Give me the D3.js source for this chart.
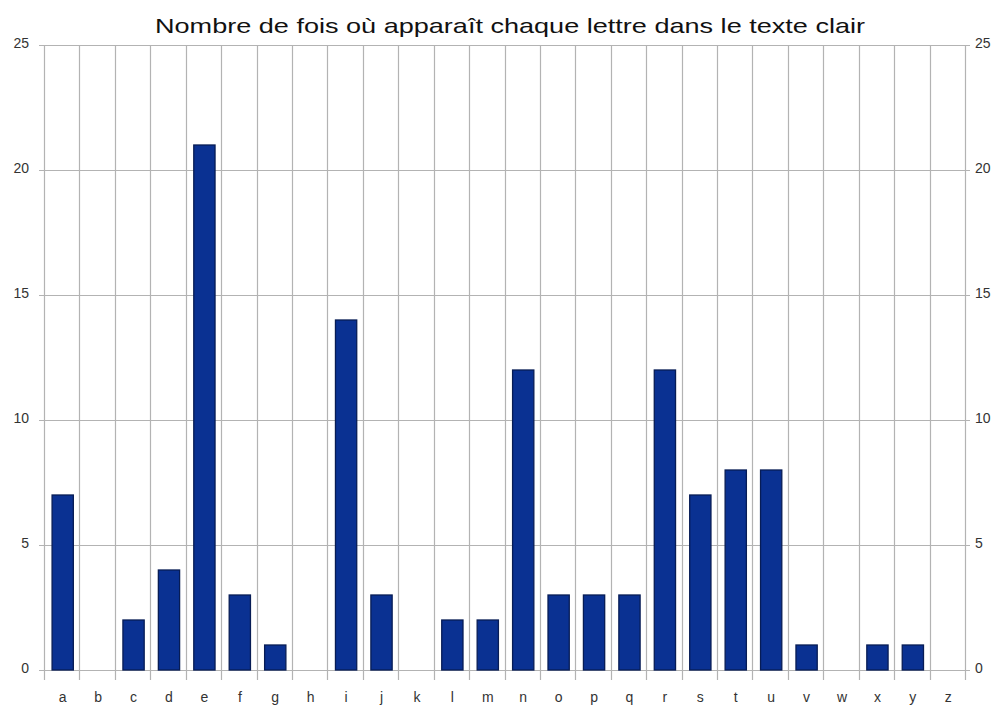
<!DOCTYPE html>
<html><head><meta charset="utf-8">
<script src="https://cdn.jsdelivr.net/npm/d3@7"></script>
<style>body{margin:0;background:#fff;font-family:"Liberation Sans",Arial,sans-serif;}</style>
</head><body>
<svg id="c" width="1007" height="706"></svg>
<script>
const categories = ["a","b","c","d","e","f","g","h","i","j","k","l","m","n","o","p","q","r","s","t","u","v","w","x","y","z"];
const counts = [7,0,2,4,21,3,1,0,14,3,0,2,2,12,3,3,3,12,7,8,8,1,0,1,1,0];
const yTicks = [0,5,10,15,20,25];
const title = "Nombre de fois où apparaît chaque lettre dans le texte clair";

const svg = d3.select("#c");
const L = 44, R = 965, T = 45, B = 670;
const x = d3.scaleBand().domain(categories).range([L, R]).paddingInner(0).paddingOuter(0);
const y = d3.scaleLinear().domain([0, 25]).range([B, T]);
const grid = "#b3b3b3";

// horizontal gridlines
svg.append("g").selectAll("line").data(yTicks).join("line")
  .attr("x1", L - 5).attr("x2", R + 5)
  .attr("y1", d => y(d) + 0.5).attr("y2", d => y(d) + 0.5)
  .attr("stroke", grid).attr("stroke-width", 1.2);

// vertical gridlines at category boundaries (extending below as ticks)
const bounds = categories.map(c => x(c)).concat([R]);
svg.append("g").selectAll("line").data(bounds).join("line")
  .attr("x1", d => Math.round(d) + 0.5).attr("x2", d => Math.round(d) + 0.5)
  .attr("y1", T).attr("y2", B + 10)
  .attr("stroke", grid).attr("stroke-width", 1.2);

// bars
const bw = x.bandwidth() * 0.6;
svg.append("g").selectAll("rect").data(categories.map((c, i) => ({c, v: counts[i]})).filter(d => d.v > 0)).join("rect")
  .attr("x", d => x(d.c) + (x.bandwidth() - bw) / 2 + 1)
  .attr("y", d => y(d.v))
  .attr("width", bw)
  .attr("height", d => y(0) - y(d.v))
  .attr("fill", "#0a3192")
  .attr("stroke", "#071c55").attr("stroke-width", 1.3);

// left axis labels
svg.append("g").selectAll("text").data(yTicks).join("text")
  .attr("x", 29).attr("y", d => y(d) + 3)
  .attr("text-anchor", "end").attr("font-size", 14).attr("fill", "#333")
  .text(d => d);
// right axis labels
svg.append("g").selectAll("text").data(yTicks).join("text")
  .attr("x", 975).attr("y", d => y(d) + 3)
  .attr("text-anchor", "start").attr("font-size", 14).attr("fill", "#333")
  .text(d => d);

// category labels
svg.append("g").selectAll("text").data(categories).join("text")
  .attr("x", d => x(d) + x.bandwidth() / 2 + 1).attr("y", 702)
  .attr("text-anchor", "middle").attr("font-size", 14).attr("fill", "#333")
  .text(d => d);

// title
svg.append("text").attr("x", 155).attr("y", 33)
  .attr("font-size", 21).attr("fill", "#111")
  .attr("textLength", 710).attr("lengthAdjust", "spacingAndGlyphs")
  .text(title);
</script>
</body></html>
